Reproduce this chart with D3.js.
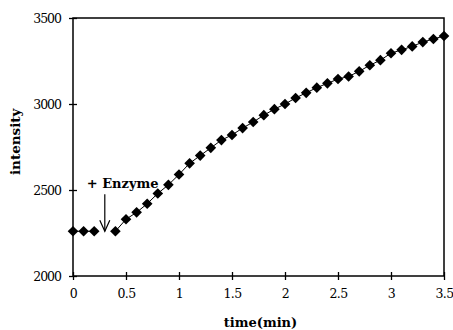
<!DOCTYPE html>
<html>
<head>
<meta charset="utf-8">
<script src="https://cdn.jsdelivr.net/npm/d3@7"></script>
<style>
  body { margin: 0; background: #fff; }
  svg { display: block; }
</style>
</head>
<body>
<div id="chart"></div>
<script>
// before enzyme is added
const timesBefore = [0, 0.1, 0.2];
const intensityBefore = [2260, 2260, 2260];

// after enzyme
const timesAfter = [0.4, 0.5, 0.6, 0.7, 0.8, 0.9, 1.0, 1.1, 1.2, 1.3, 1.4, 1.5, 1.6, 1.7, 1.8, 1.9,
  2.0, 2.1, 2.2, 2.3, 2.4, 2.5, 2.6, 2.7, 2.8, 2.9, 3.0, 3.1, 3.2, 3.3, 3.4, 3.5];
const intensityAfter = [2260, 2330, 2370, 2420, 2480, 2530, 2590, 2655, 2700, 2745, 2790, 2820, 2860, 2895, 2935, 2970,
  3000, 3035, 3065, 3095, 3120, 3145, 3160, 3190, 3225, 3255, 3295, 3315, 3335, 3360, 3378, 3395];

const xTicks = [0, 0.5, 1, 1.5, 2, 2.5, 3, 3.5];
const xTickLabels = ['0', '0.5', '1', '1.5', '2', '2.5', '3', '3.5'];
const yTicks = [2000, 2500, 3000, 3500];

const enzymeTime = 0.3;
const enzymeLevel = 2260;

const W = 453, H = 330;
const margin = { top: 18, right: 9, bottom: 54, left: 73 };
const width = W - margin.left - margin.right;
const height = H - margin.top - margin.bottom;

const svg = d3.select('#chart').append('svg')
  .attr('width', W)
  .attr('height', H);

const g = svg.append('g')
  .attr('transform', `translate(${margin.left},${margin.top})`);

const x = d3.scaleLinear().domain([0, 3.5]).range([0, width]);
const y = d3.scaleLinear().domain([2000, 3500]).range([height, 0]);

const serif = '"DejaVu Serif", "Liberation Serif", serif';

// frame
g.append('rect')
  .attr('x', 0).attr('y', 0)
  .attr('width', width).attr('height', height)
  .attr('fill', 'none')
  .attr('stroke', '#000')
  .attr('stroke-width', 1.5);

// x axis
const xAxis = g.append('g')
  .attr('transform', `translate(0,${height})`)
  .call(d3.axisBottom(x).tickValues(xTicks).tickFormat((d, i) => xTickLabels[i]).tickSize(4).tickPadding(9));
xAxis.select('.domain').remove();
xAxis.selectAll('.tick line').attr('y1', -4).attr('stroke-width', 1.3);
xAxis.selectAll('.tick text')
  .attr('font-family', serif)
  .attr('font-size', 12.5)
  .attr('letter-spacing', -0.6)
  .attr('fill', '#000');

// y axis
const yAxis = g.append('g')
  .call(d3.axisLeft(y).tickValues(yTicks).tickFormat(d3.format('d')).tickSize(4).tickPadding(8));
yAxis.select('.domain').remove();
yAxis.selectAll('.tick line').attr('x1', 4).attr('stroke-width', 1.3);
yAxis.selectAll('.tick text')
  .attr('font-family', serif)
  .attr('font-size', 12.5)
  .attr('letter-spacing', -1)
  .attr('fill', '#000');

// axis titles
svg.append('text')
  .attr('x', margin.left + x(1.75) + 2)
  .attr('y', 327)
  .attr('text-anchor', 'middle')
  .attr('font-family', serif)
  .attr('font-weight', 'bold')
  .attr('font-size', 13)
  .text('time(min)');

svg.append('text')
  .attr('transform', `translate(20,${margin.top + y(2780)}) rotate(-90)`)
  .attr('text-anchor', 'middle')
  .attr('font-family', serif)
  .attr('font-weight', 'bold')
  .attr('font-size', 13.5)
  .text('intensity');

// data
const before = timesBefore.map((t, i) => ({ t, v: intensityBefore[i] }));
const after = timesAfter.map((t, i) => ({ t, v: intensityAfter[i] }));

const line = d3.line().x(d => x(d.t)).y(d => y(d.v));
[before, after].forEach(series => {
  g.append('path')
    .datum(series)
    .attr('d', line)
    .attr('fill', 'none')
    .attr('stroke', '#000')
    .attr('stroke-width', 1);
});

const diamond = d3.symbol().type(d3.symbolDiamond2).size(72);
g.selectAll('.pt')
  .data(before.concat(after))
  .enter().append('path')
  .attr('class', 'pt')
  .attr('transform', d => `translate(${x(d.t)},${y(d.v)})`)
  .attr('d', diamond)
  .attr('fill', '#000');

// enzyme annotation
const ax = x(enzymeTime);
const tipY = y(enzymeLevel);
g.append('line')
  .attr('x1', ax).attr('x2', ax)
  .attr('y1', tipY - 37).attr('y2', tipY)
  .attr('stroke', '#000').attr('stroke-width', 1.2);
g.append('path')
  .attr('d', `M${ax - 5},${tipY - 11}L${ax},${tipY}L${ax + 5},${tipY - 11}`)
  .attr('fill', 'none')
  .attr('stroke', '#000')
  .attr('stroke-width', 1.2);

g.append('text')
  .attr('x', ax - 18)
  .attr('y', tipY - 43)
  .attr('font-family', serif)
  .attr('font-weight', 'bold')
  .attr('font-size', 13)
  .text('+ Enzyme');
</script>
</body>
</html>
